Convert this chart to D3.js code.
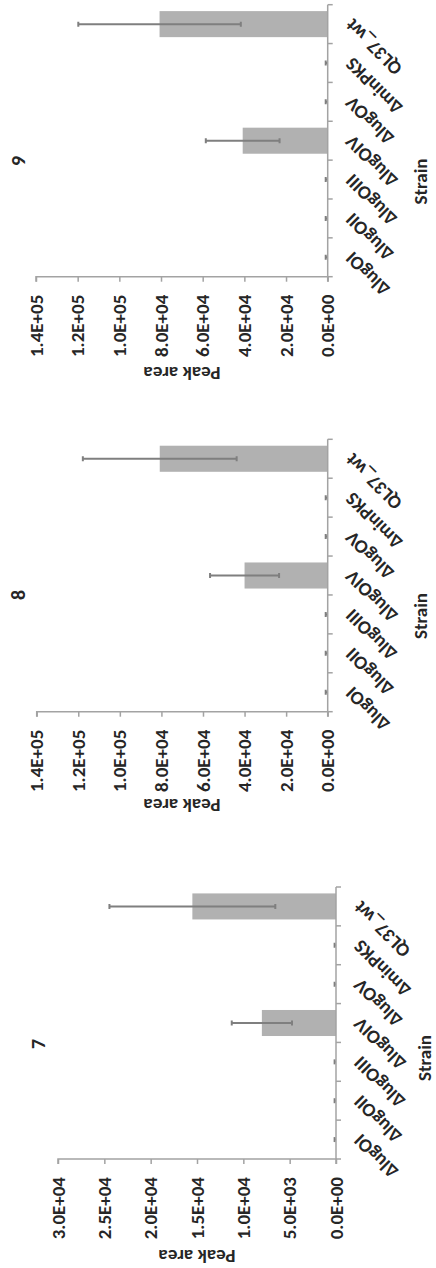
<!DOCTYPE html>
<html>
<head>
<meta charset="utf-8">
<script src="https://cdn.jsdelivr.net/npm/d3@7"></script>
<style>
  html, body { margin: 0; padding: 0; background: #fff; }
  svg { display: block; }
  text { font-family: Carlito, Calibri, Lato, "Open Sans", sans-serif; fill: #262626; }
</style>
</head>
<body>
<script>
// ---------------- data ----------------
const categories = ["ΔlugOI", "ΔlugOII", "ΔlugOIII", "ΔlugOIV", "ΔlugOV", "ΔminPKS", "QL37_wt"];
const panelTitles = ["7", "8", "9"];

const values7 = [0, 0, 0, 8000, 0, 0, 15500];
const errors7 = [150, 150, 150, 3250, 150, 150, 8950];
const values8 = [0, 0, 0, 40000, 0, 0, 80800];
const errors8 = [950, 950, 950, 16600, 950, 950, 37000];
const values9 = [0, 0, 0, 40800, 0, 0, 80700];
const errors9 = [950, 950, 950, 17700, 950, 950, 39000];

const ticks7 = [0, 5000, 10000, 15000, 20000, 25000, 30000];
const ticks8 = [0, 20000, 40000, 60000, 80000, 100000, 120000, 140000];
const ticks9 = [0, 20000, 40000, 60000, 80000, 100000, 120000, 140000];

const yAxisTitle = "Peak area";
const xAxisTitle = "Strain";

// ---------------- layout (in the un-rotated frame, 1268 x 436) ----------------
const W = 436, H = 1268;
const layouts = [
  { left: 109,   right: 381,    bottom: 336,   top: 58,   title: [224, 37.5],  yTitle: [12, 197],    xTitle: [210, 431] },
  { left: 556.3, right: 828.7,  bottom: 327.7, top: 36.7, title: [673, 17.5],  yTitle: [463, 182],   xTitle: [652, 427] },
  { left: 991.3, right: 1263.3, bottom: 327.7, top: 36,   title: [1107, 17.5], yTitle: [894.5, 182], xTitle: [1086.5, 427] }
];
const panels = [
  { values: values7, errors: errors7, ticks: ticks7 },
  { values: values8, errors: errors8, ticks: ticks8 },
  { values: values9, errors: errors9, ticks: ticks9 }
];

const sciFmt = d => {
  if (d === 0) return "0.0E+00";
  const e = Math.floor(Math.log10(d));
  const m = d / Math.pow(10, e);
  return m.toFixed(1) + "E+" + String(e).padStart(2, "0");
};

const svg = d3.select("body").append("svg")
  .attr("width", W).attr("height", H);

// whole figure is rotated 90° counter-clockwise
const root = svg.append("g").attr("transform", `translate(0,${H}) rotate(-90)`);

const axisColor = "#a3a3a3";
const barColor = "#b1b1b1";
const errColor = "#7f7f7f";
const fs = 19;

panels.forEach((p, i) => {
  const L = layouts[i];
  const g = root.append("g");

  const x = d3.scaleBand().domain(categories).range([L.left, L.right])
    .paddingInner(0.33).paddingOuter(0.165);
  const yMax = p.ticks[p.ticks.length - 1];
  const y = d3.scaleLinear().domain([0, yMax]).range([L.bottom, L.top]);

  const clipId = "clip" + i;
  g.append("clipPath").attr("id", clipId).append("rect")
    .attr("x", L.left).attr("y", L.top - 2)
    .attr("width", L.right - L.left).attr("height", L.bottom - L.top + 2);

  const data = categories.map((c, k) => ({ c, v: p.values[k], e: p.errors[k] }));

  // bars
  g.append("g").selectAll("rect").data(data.filter(d => d.v > 0)).join("rect")
    .attr("x", d => x(d.c))
    .attr("width", x.bandwidth())
    .attr("y", d => y(d.v))
    .attr("height", d => y(0) - y(d.v))
    .attr("fill", barColor);

  // error bars
  const eg = g.append("g").attr("clip-path", `url(#${clipId})`)
    .attr("stroke", errColor).attr("stroke-width", 2).attr("fill", "none");
  const capW = 5;
  data.forEach(d => {
    const cx = x(d.c) + x.bandwidth() / 2;
    eg.append("line").attr("x1", cx).attr("x2", cx)
      .attr("y1", y(d.v - d.e)).attr("y2", y(d.v + d.e));
    [d.v - d.e, d.v + d.e].forEach(val => {
      eg.append("line").attr("x1", cx - capW / 2).attr("x2", cx + capW / 2)
        .attr("y1", y(val)).attr("y2", y(val));
    });
  });

  // value axis
  const yAxis = g.append("g").attr("transform", `translate(${L.left},0)`)
    .call(d3.axisLeft(y).tickValues(p.ticks).tickFormat(sciFmt).tickSize(5).tickPadding(13));
  yAxis.select(".domain").attr("stroke", axisColor).attr("stroke-width", 1.5)
    .attr("d", `M-5,${L.bottom}H0V${L.top}H-5`);
  yAxis.selectAll(".tick line").attr("stroke", axisColor).attr("stroke-width", 1.5);
  yAxis.selectAll(".tick text").attr("font-size", fs).attr("font-weight", "bold")
    .attr("fill", "#262626").style("font-family", null);

  // category axis (ticks between categories)
  const step = x.step();
  const half = (step - x.bandwidth()) / 2;
  const bounds = categories.map(c => x(c) - half).concat([x(categories[categories.length - 1]) + x.bandwidth() + half]);
  const xa = g.append("g");
  xa.append("line").attr("x1", L.left).attr("x2", L.right)
    .attr("y1", L.bottom).attr("y2", L.bottom)
    .attr("stroke", axisColor).attr("stroke-width", 1.5);
  xa.selectAll("line.tk").data(bounds).join("line").attr("class", "tk")
    .attr("x1", d => d).attr("x2", d => d)
    .attr("y1", L.bottom).attr("y2", L.bottom + 5)
    .attr("stroke", axisColor).attr("stroke-width", 1.5);
  xa.selectAll("text").data(categories).join("text")
    .attr("transform", c => `translate(${x(c) + x.bandwidth() / 2 + 2},${L.bottom + 21}) rotate(-45)`)
    .attr("text-anchor", "end")
    .attr("dominant-baseline", "central")
    .attr("font-size", fs).attr("font-weight", "bold")
    .text(c => c);

  // titles
  g.append("text").attr("x", L.title[0]).attr("y", L.title[1])
    .attr("text-anchor", "middle").attr("dominant-baseline", "central")
    .attr("font-size", 20).attr("font-weight", "bold").text(panelTitles[i]);
  g.append("text")
    .attr("transform", `translate(${L.yTitle[0]},${L.yTitle[1]}) rotate(-90)`)
    .attr("text-anchor", "middle").attr("dominant-baseline", "central")
    .attr("font-size", fs).attr("font-weight", "bold").text(yAxisTitle);
  g.append("text").attr("x", L.xTitle[0]).attr("y", L.xTitle[1])
    .attr("text-anchor", "middle")
    .attr("font-size", fs).attr("font-weight", "bold").text(xAxisTitle);
});
</script>
</body>
</html>
